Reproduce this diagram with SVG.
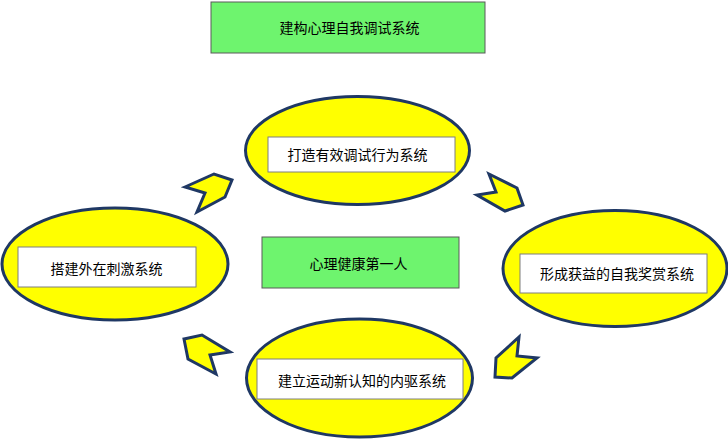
<svg xmlns="http://www.w3.org/2000/svg" width="728" height="439" viewBox="0 0 728 439">
<style>
.ell{fill:#FFFF00;stroke:#1F3864;stroke-width:3}
.inner{fill:#FFFFFF;stroke:#7F7F7F;stroke-width:1}
.green{fill:#6EF46E;stroke:#5A5A5A;stroke-width:1}
.arr{fill:#FFFF00;stroke:#1F3864;stroke-width:3;stroke-linejoin:miter}
text{font-family:"Noto Sans CJK SC","Noto Sans CJK JP",sans-serif;font-size:14px;fill:#000;text-anchor:middle;dominant-baseline:central}
</style>
<rect width="728" height="439" fill="#FFFFFF"/>
<g id="title">
<rect class="green" x="211" y="2" width="274" height="51"/>
<text x="349.5" y="27">建构心理自我调试系统</text>
</g>
<g id="center">
<rect class="green" x="262" y="237" width="197" height="51"/>
<text x="358.5" y="263">心理健康第一人</text>
</g>
<g id="top">
<ellipse class="ell" cx="357.5" cy="150.5" rx="112" ry="54"/>
<rect class="inner" x="268" y="137" width="187" height="35"/>
<text x="357.5" y="154">打造有效调试行为系统</text>
</g>
<g id="left">
<ellipse class="ell" cx="115" cy="264" rx="113" ry="56"/>
<rect class="inner" x="18" y="247" width="178" height="40"/>
<text x="106.5" y="268">搭建外在刺激系统</text>
</g>
<g id="right">
<ellipse class="ell" cx="615" cy="268.5" rx="112" ry="58"/>
<rect class="inner" x="520" y="254" width="187" height="39"/>
<text x="617" y="273">形成获益的自我奖赏系统</text>
</g>
<g id="bottom">
<ellipse class="ell" cx="359.5" cy="378" rx="113" ry="59"/>
<rect class="inner" x="257" y="359" width="206" height="40"/>
<text x="362" y="380">建立运动新认知的内驱系统</text>
</g>
<g id="connectors">
<polygon class="arr" points="185,187 214,174 232,180 225,197 197,212 205,193"/>
<polygon class="arr" points="489,174 517,188 523,205 505,211 477,195 496,192"/>
<polygon class="arr" points="519,337 517,356 537,358 512,378 495,377 496,358"/>
<polygon class="arr" points="184,339 202,335 230,352 210,355 216,374 188,359"/>
</g>
</svg>
